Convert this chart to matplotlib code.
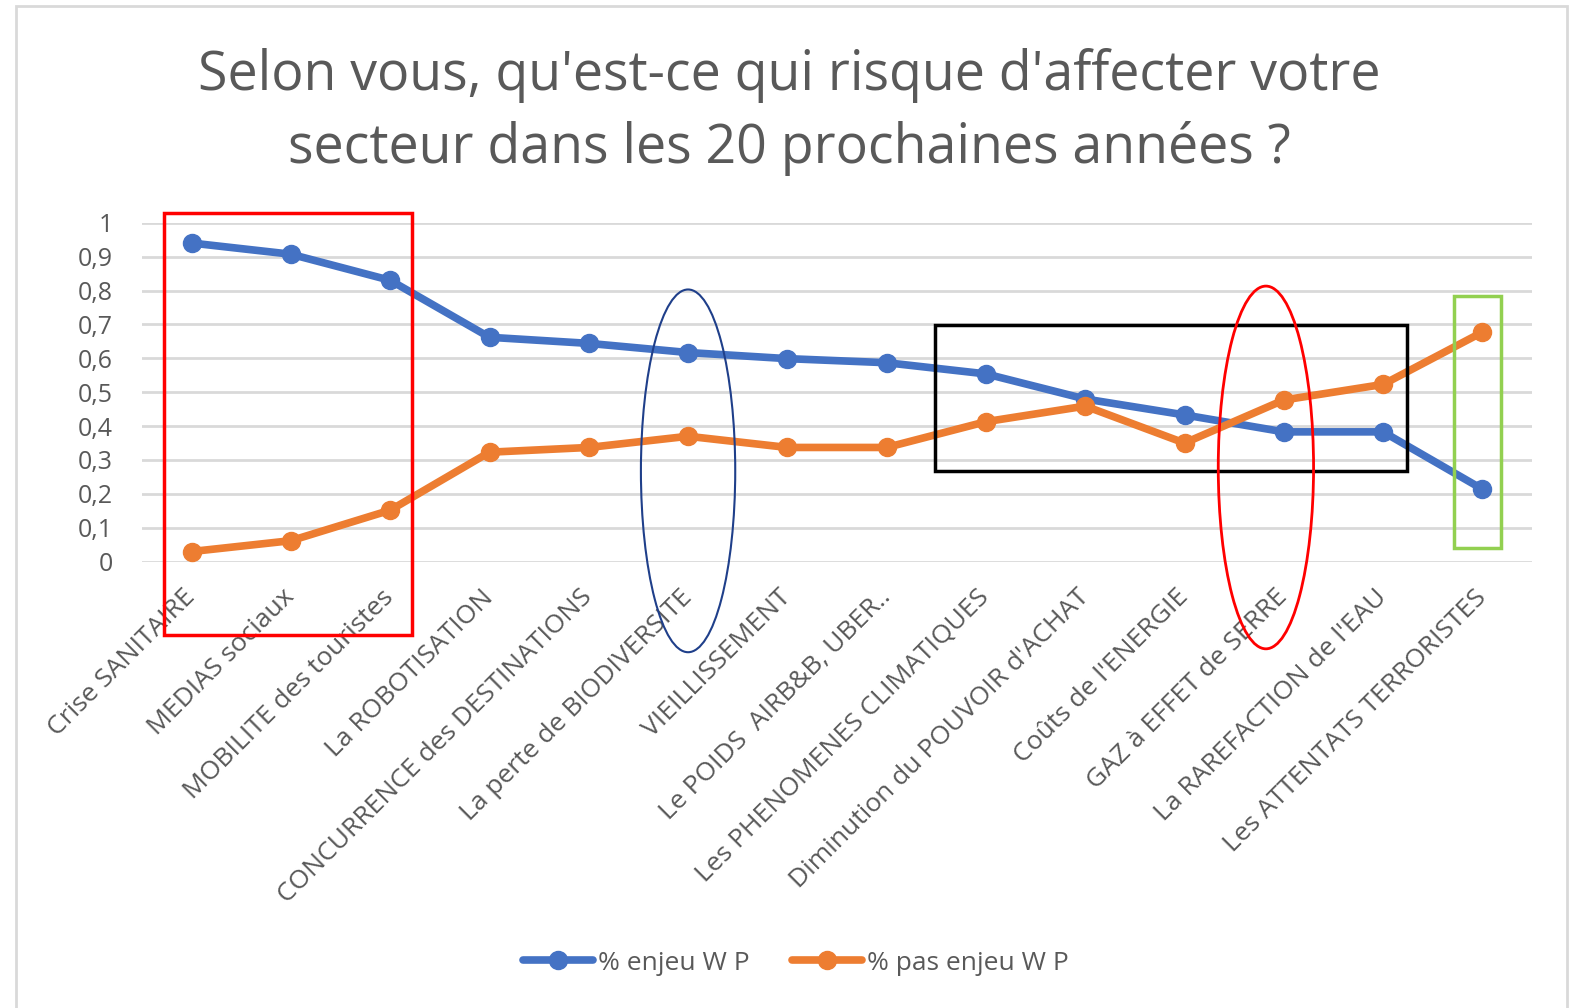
import numpy as np
import matplotlib.pyplot as plt
from matplotlib.patches import Rectangle, Ellipse

plt.rcParams['font.family'] = ['Open Sans', 'DejaVu Sans']

categories = ["Crise SANITAIRE", "MEDIAS sociaux", "MOBILITE des touristes",
              "La ROBOTISATION", "CONCURRENCE des DESTINATIONS",
              "La perte de BIODIVERSITE", "VIEILLISSEMENT", "Le POIDS  AIRB&B, UBER..",
              "Les PHENOMENES CLIMATIQUES", "Diminution du POUVOIR d'ACHAT",
              "Coûts de l'ENERGIE", "GAZ à EFFET de SERRE", "La RAREFACTION de l'EAU",
              "Les ATTENTATS TERRORISTES"]
enjeu = [0.94, 0.907, 0.83, 0.662, 0.644, 0.617, 0.599, 0.587, 0.554, 0.48,
         0.433, 0.383, 0.383, 0.214]
pas_enjeu = [0.03, 0.062, 0.152, 0.323, 0.337, 0.37, 0.337, 0.337, 0.413, 0.459,
             0.35, 0.477, 0.523, 0.677]
y_ticks = [0, 0.1, 0.2, 0.3, 0.4, 0.5, 0.6, 0.7, 0.8, 0.9, 1]
y_labels = ["0", "0,1", "0,2", "0,3", "0,4", "0,5", "0,6", "0,7", "0,8", "0,9", "1"]

W, H = 1571, 1008
fig = plt.figure(figsize=(W/100, H/100), dpi=100)
ax = fig.add_axes([142/W, 1-561.7/H, (1532-142)/W, (561.7-222.7)/H])

grey = '#595959'
x = np.arange(len(categories))
ax.plot(x, enjeu, color='#4472C4', lw=5.5, marker='o', ms=13, label='% enjeu W P',
        solid_capstyle='round', zorder=3)
ax.plot(x, pas_enjeu, color='#ED7D31', lw=5.5, marker='o', ms=13, label='% pas enjeu W P',
        solid_capstyle='round', zorder=3)

ax.set_xlim(-0.5, len(categories)-0.5)
ax.set_ylim(0, 1)
ax.set_yticks(y_ticks)
ax.set_yticklabels(y_labels, color=grey, fontsize=18)
ax.yaxis.grid(True, color='#D9D9D9', lw=2)
ax.set_axisbelow(True)
ax.set_xticks(x)
ax.set_xticklabels(categories, rotation=45, ha='right', va='center',
                   rotation_mode='anchor', color=grey, fontsize=19)
ax.tick_params(axis='x', length=0, pad=23)
ax.tick_params(axis='y', length=0, pad=21)
for s in ax.spines.values():
    s.set_visible(False)

# title
fig.text(789/W, 1-90/H, "Selon vous, qu'est-ce qui risque d'affecter votre",
         ha='center', va='baseline', fontsize=38.6, color=grey)
fig.text(789/W, 1-163/H, "secteur dans les 20 prochaines années ?",
         ha='center', va='baseline', fontsize=38.6, color=grey)

# legend
leg = fig.legend(loc='center', bbox_to_anchor=(796/W, 1-963/H), ncol=2, frameon=False,
                 fontsize=19, handlelength=2.65, columnspacing=1.6, handletextpad=0.2,
                 labelcolor=grey)

# highlight shapes drawn on top of the chart (data units)
ax.add_patch(Rectangle((-0.278, -0.216), 2.5, 1.244, fill=False, ec='#FF0000', lw=2.5,
                       clip_on=False, zorder=4))
ax.add_patch(Ellipse((5.0, 0.268), 0.95, 1.07, fill=False, ec='#1F3F8A', lw=1.5,
                     clip_on=False, zorder=4))
ax.add_patch(Rectangle((7.49, 0.268), 4.75, 0.43, fill=False, ec='black', lw=2.5,
                       clip_on=False, zorder=4))
ax.add_patch(Ellipse((10.82, 0.278), 0.96, 1.07, fill=False, ec='#FF0000', lw=2,
                     clip_on=False, zorder=4))
ax.add_patch(Rectangle((12.71, 0.041), 0.48, 0.743, fill=False, ec='#92D050', lw=2.5,
                       clip_on=False, zorder=4))

# chart border
fig.patches.append(Rectangle((16/W, -0.01), (1567-16)/W, 1.01-6/H, transform=fig.transFigure,
                             fill=False, ec='#D9D9D9', lw=2))

fig.savefig('out.png', dpi=100)
